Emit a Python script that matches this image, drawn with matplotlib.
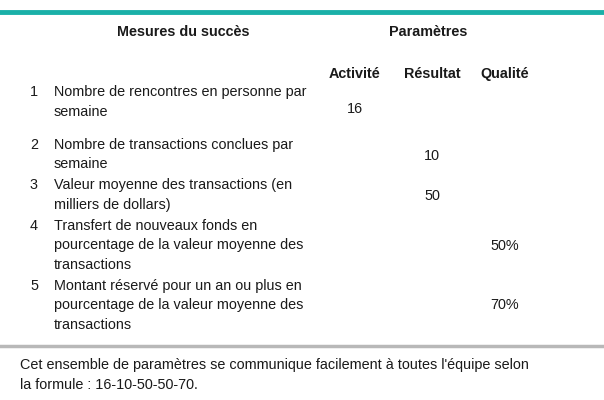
import matplotlib
matplotlib.use("Agg")
import matplotlib.pyplot as plt
from matplotlib.lines import Line2D

W, H = 604, 400
FONT = "Liberation Sans"

headers = ["Mesures du succès", "Paramètres"]
subheaders = ["Activité", "Résultat", "Qualité"]
row_numbers = ["1", "2", "3", "4", "5"]
row_labels = [
    ["Nombre de rencontres en personne par", "semaine"],
    ["Nombre de transactions conclues par", "semaine"],
    ["Valeur moyenne des transactions (en", "milliers de dollars)"],
    ["Transfert de nouveaux fonds en", "pourcentage de la valeur moyenne des", "transactions"],
    ["Montant réservé pour un an ou plus en", "pourcentage de la valeur moyenne des", "transactions"],
]
row_values = ["16", "10", "50", "50%", "70%"]
row_value_column = [0, 1, 1, 2, 2]
footer = ["Cet ensemble de paramètres se communique facilement à toutes l'équipe selon",
          "la formule : 16-10-50-50-70."]

# layout in pixels
row_tops = [92, 145, 185, 226, 286]
value_y = [109, 156, 196, 246, 305]
col_x = [355, 432, 505]
line_step = 19.5

fig = plt.figure(figsize=(W / 100, H / 100), dpi=100)

def px(x, y):
    return x / W, 1 - y / H

def txt(x, y, s, **kw):
    kw.setdefault("fontsize", 10.4)
    kw.setdefault("va", "center")
    fig.text(*px(x, y), s, family=FONT, color="#1a1a1a", **kw)

fig.add_artist(Line2D([0, 1], [1 - 12 / H] * 2, color="#1ab0a8", lw=3.5))
fig.add_artist(Line2D([0, 1], [1 - 346 / H] * 2, color="#b8b8b8", lw=2.5))

txt(183, 32, headers[0], ha="center", weight="bold")
txt(428, 32, headers[1], ha="center", weight="bold")
for x, s in zip(col_x, subheaders):
    txt(x, 74, s, ha="center", weight="bold")

for i, (num, lines) in enumerate(zip(row_numbers, row_labels)):
    txt(30, row_tops[i], num, ha="left")
    for j, line in enumerate(lines):
        txt(54, row_tops[i] + j * line_step, line, ha="left")
    txt(col_x[row_value_column[i]], value_y[i], row_values[i], ha="center")

for j, line in enumerate(footer):
    txt(20, 365 + j * 20, line, ha="left")

fig.savefig("out.png", dpi=100, facecolor="white")
